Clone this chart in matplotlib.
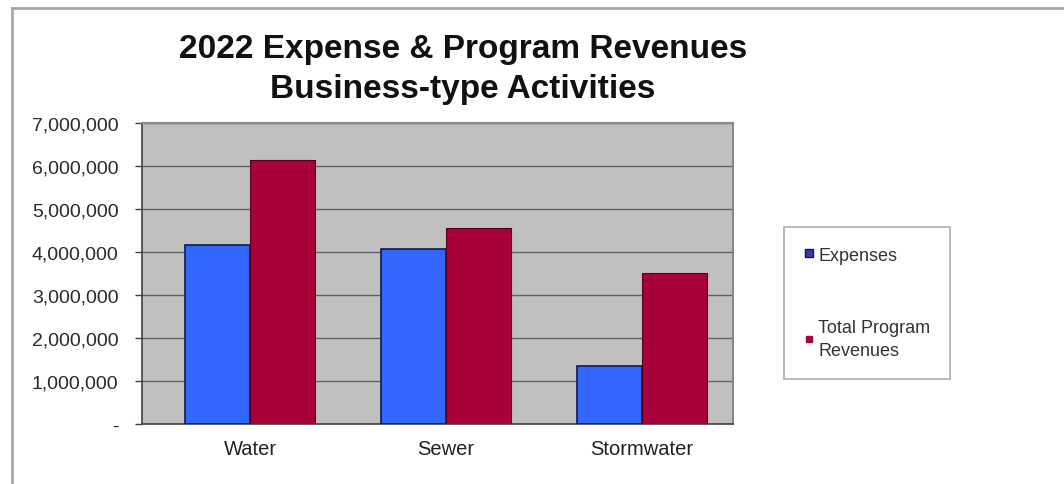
import matplotlib.pyplot as plt
from matplotlib.lines import Line2D
from matplotlib.ticker import FuncFormatter
import numpy as np

# activity data
activities = ['Water', 'Sewer', 'Stormwater']
expenses = [4170000, 4080000, 1340000]
program_revenues = [6140000, 4550000, 3520000]
y_ticks = [0, 1000000, 2000000, 3000000, 4000000, 5000000, 6000000, 7000000]

BLUE = '#3366FF'
RED = '#A8003A'

plt.rcParams['font.family'] = ['Liberation Sans', 'DejaVu Sans']


def fmt(v, pos):
    if v == 0:
        return '-'
    return '{:,.0f}'.format(v)


def main():
    fig = plt.figure(figsize=(10.64, 4.85), dpi=100)
    ax = fig.add_axes([0.1335, 0.1237, 0.5555, 0.6206])

    x = np.arange(len(activities))
    w = 0.33
    ax.bar(x - w / 2, expenses, w, color=BLUE, edgecolor='#101850', linewidth=1.2, zorder=3)
    ax.bar(x + w / 2, program_revenues, w, color=RED, edgecolor='#5a0018', linewidth=0.8, zorder=3)

    ax.set_facecolor('#C0C0C0')
    ax.set_xlim(-0.551, 2.464)
    ax.set_ylim(0, 7000000)
    ax.set_yticks(y_ticks)
    ax.yaxis.set_major_formatter(FuncFormatter(fmt))
    ax.yaxis.grid(True, color='#626262', linewidth=1.0, zorder=1)
    ax.set_axisbelow(True)
    ax.set_xticks(x)
    ax.set_xticklabels(activities)
    ax.tick_params(axis='x', length=0, pad=11, labelsize=14.5, labelcolor='#222222')
    ax.tick_params(axis='y', length=5, width=1, color='#404040', pad=12, labelsize=14, labelcolor='#2a2a2a')
    for side in ['left', 'bottom']:
        ax.spines[side].set_color('#404040')
        ax.spines[side].set_linewidth(1.2)
    for side in ['top', 'right']:
        ax.spines[side].set_color('#8a8a8a')
        ax.spines[side].set_linewidth(1.5)

    # title
    fig.text(0.435, 0.897, '2022 Expense & Program Revenues', ha='center', va='center',
             fontsize=24, fontweight='bold', color='#111111')
    fig.text(0.435, 0.815, 'Business-type Activities', ha='center', va='center',
             fontsize=24, fontweight='bold', color='#111111')

    # legend
    handles = [
        Line2D([], [], linestyle='none', marker='s', markersize=6, markerfacecolor='#3a3aa0',
               markeredgecolor='#101850'),
        Line2D([], [], linestyle='none', marker='s', markersize=5, markerfacecolor=RED,
               markeredgecolor=RED),
    ]
    leg = fig.legend(handles, ['Expenses', 'Total Program\nRevenues'], loc='upper left',
                     bbox_to_anchor=(0.737, 0.530), frameon=True, fancybox=False,
                     fontsize=13, labelspacing=3.05, handlelength=0.5, handletextpad=0.3,
                     borderpad=1.1, borderaxespad=0)
    leg.get_frame().set_edgecolor('#999999')
    leg.get_frame().set_linewidth(1.2)
    for t in leg.get_texts():
        t.set_color('#333333')
        t.set_linespacing(1.5)

    # outer chart frame
    fig.add_artist(Line2D([12 / 1064, 12 / 1064], [0, 1 - 9 / 485], transform=fig.transFigure,
                          color='#a8a8a8', linewidth=2))
    fig.add_artist(Line2D([12 / 1064, 1], [1 - 9 / 485, 1 - 9 / 485], transform=fig.transFigure,
                          color='#a8a8a8', linewidth=2))

    plt.savefig('out.png', dpi=100)


if __name__ == "__main__":
    main()
